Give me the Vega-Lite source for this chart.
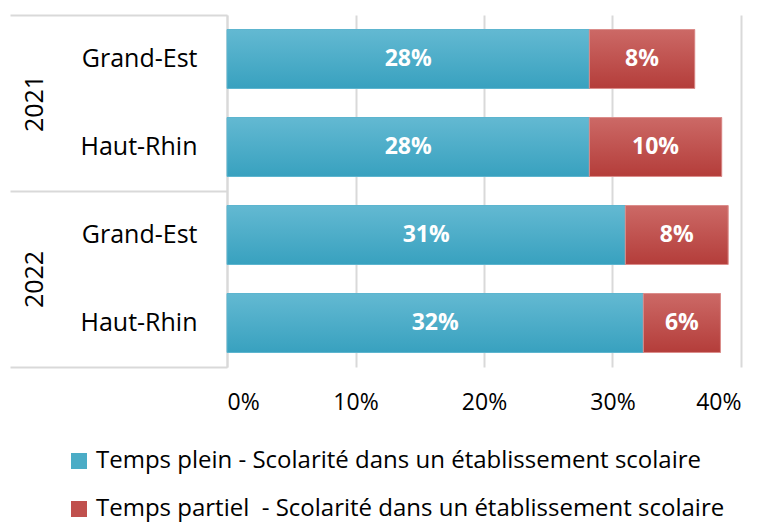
{
  "$schema": "https://vega.github.io/schema/vega-lite/v6.json",
  "autosize": {"type": "none"},
  "width": 514,
  "height": 352,
  "padding": {"left": 227, "top": 15, "right": 27, "bottom": 155},
  "background": "white",
  "config": {
    "font": "Open Sans",
    "view": {"stroke": null},
    "axis": {"labelFont": "Open Sans", "labelColor": "#000000", "labelFontSize": 23, "titleFont": "Open Sans"},
    "legend": {"labelFont": "Open Sans"}
  },
  "data": {
    "values": [
      {"year": "2021", "region": "Grand-Est", "key": "2021|Grand-Est", "type": "Temps plein - Scolarité dans un établissement scolaire", "ord": 1, "value": 0.282, "label": "28%"},
      {"year": "2021", "region": "Grand-Est", "key": "2021|Grand-Est", "type": "Temps partiel\u00a0 - Scolarité dans un établissement scolaire", "ord": 2, "value": 0.082, "label": "8%"},
      {"year": "2021", "region": "Haut-Rhin", "key": "2021|Haut-Rhin", "type": "Temps plein - Scolarité dans un établissement scolaire", "ord": 1, "value": 0.282, "label": "28%"},
      {"year": "2021", "region": "Haut-Rhin", "key": "2021|Haut-Rhin", "type": "Temps partiel\u00a0 - Scolarité dans un établissement scolaire", "ord": 2, "value": 0.103, "label": "10%"},
      {"year": "2022", "region": "Grand-Est", "key": "2022|Grand-Est", "type": "Temps plein - Scolarité dans un établissement scolaire", "ord": 1, "value": 0.310, "label": "31%"},
      {"year": "2022", "region": "Grand-Est", "key": "2022|Grand-Est", "type": "Temps partiel\u00a0 - Scolarité dans un établissement scolaire", "ord": 2, "value": 0.080, "label": "8%"},
      {"year": "2022", "region": "Haut-Rhin", "key": "2022|Haut-Rhin", "type": "Temps plein - Scolarité dans un établissement scolaire", "ord": 1, "value": 0.324, "label": "32%"},
      {"year": "2022", "region": "Haut-Rhin", "key": "2022|Haut-Rhin", "type": "Temps partiel\u00a0 - Scolarité dans un établissement scolaire", "ord": 2, "value": 0.060, "label": "6%"}
    ]
  },
  "layer": [
    {
      "encoding": {
        "y": {
          "field": "key", "type": "nominal",
          "sort": ["2021|Grand-Est", "2021|Haut-Rhin", "2022|Grand-Est", "2022|Haut-Rhin"],
          "scale": {"paddingInner": 0.33, "paddingOuter": 0.165},
          "axis": {
            "title": null, "orient": "left", "ticks": false, "domain": true,
            "domainColor": "#d9d9d9", "domainWidth": 2,
            "labelExpr": "split(datum.value, '|')[1]",
            "labelPadding": 30, "labelFontSize": 25, "labelAlign": "right"
          }
        },
        "x": {
          "field": "value", "type": "quantitative", "stack": "zero",
          "scale": {"domain": [0, 0.4], "nice": false},
          "axis": {
            "title": null, "values": [0, 0.1, 0.2, 0.3, 0.4], "format": ".0%",
            "grid": true, "gridColor": "#d9d9d9", "gridWidth": 2,
            "domain": false, "ticks": false, "labelPadding": 24, "labelFontSize": 23
          }
        },
        "order": {"field": "ord", "type": "quantitative"}
      },
      "layer": [
        {
          "mark": {"type": "bar"},
          "encoding": {
            "color": {
              "field": "type", "type": "nominal",
              "scale": {
                "domain": ["Temps plein - Scolarité dans un établissement scolaire", "Temps partiel\u00a0 - Scolarité dans un établissement scolaire"],
                "range": ["#4BACC6", "#C0504D"]
              },
              "legend": {
                "title": null, "orient": "none", "legendX": -160, "legendY": 434,
                "direction": "vertical", "symbolType": "square", "symbolSize": 256,
                "symbolStrokeWidth": 0, "labelFontSize": 24, "labelColor": "#000000",
                "labelOffset": 5, "rowPadding": 24, "labelLimit": 700
              }
            }
          }
        },
        {
          "mark": {"type": "bar", "strokeWidth": 1},
          "encoding": {
            "detail": {"field": "type"},
            "fill": {
              "condition": {
                "test": "datum.ord == 1",
                "value": {"gradient": "linear", "x1": 0, "y1": 0, "x2": 0, "y2": 1,
                  "stops": [{"offset": 0, "color": "#63B9D2"}, {"offset": 1, "color": "#38A1BF"}]}
              },
              "value": {"gradient": "linear", "x1": 0, "y1": 0, "x2": 0, "y2": 1,
                "stops": [{"offset": 0, "color": "#CC6966"}, {"offset": 1, "color": "#B43D3A"}]}
            },
            "stroke": {
              "condition": {"test": "datum.ord == 1", "value": "#5DB5CF"},
              "value": "#DB8E8C"
            }
          }
        },
        {
          "mark": {"type": "text", "color": "white", "fontWeight": "bold", "fontSize": 23, "font": "Open Sans", "baseline": "middle", "align": "center"},
          "encoding": {
            "x": {"field": "value", "type": "quantitative", "stack": "zero", "bandPosition": 0.5},
            "detail": {"field": "type"},
            "text": {"field": "label"}
          }
        }
      ]
    },
    {
      "mark": {"type": "bar", "opacity": 0},
      "encoding": {
        "y": {
          "field": "year", "type": "nominal",
          "sort": ["2021", "2022"],
          "scale": {"paddingInner": 0, "paddingOuter": 0},
          "axis": {
            "title": null, "orient": "left", "domain": false,
            "ticks": true, "tickBand": "extent", "tickSize": 217, "tickColor": "#d9d9d9", "tickWidth": 2,
            "labelAngle": 270, "labelAlign": "center", "labelBaseline": "middle",
            "labelPadding": -24, "labelFontSize": 25, "offset": 0
          }
        }
      }
    }
  ],
  "resolve": {"scale": {"y": "independent"}, "axis": {"y": "independent"}}
}
